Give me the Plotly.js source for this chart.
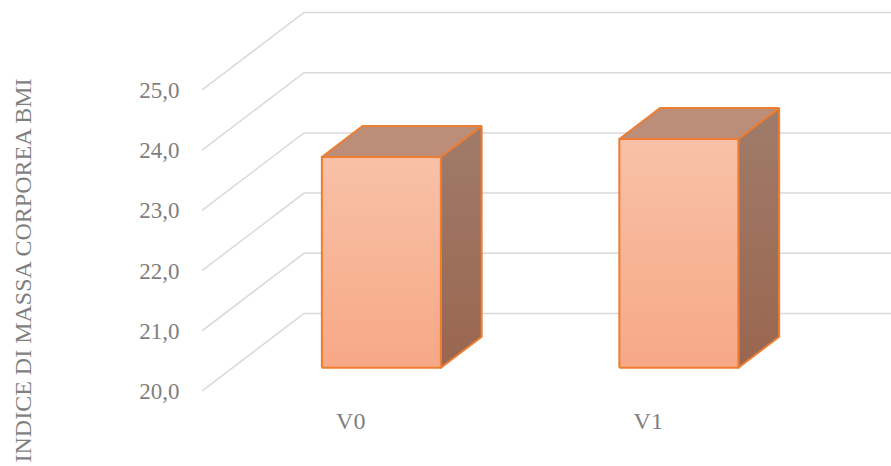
<!DOCTYPE html>
<html>
<head>
<meta charset="utf-8">
<script src="https://cdn.plot.ly/plotly-3.0.1.min.js"></script>
<style>html,body{margin:0;padding:0;background:#fff;}#chart{width:891px;height:466px;}</style>
</head>
<body>
<div id="chart"></div>
<script>
// ---- data ----
const categories = ['V0', 'V1'];
const bmiValues = [23.5, 23.8];
const yTickValues = [20, 21, 22, 23, 24, 25];
const yTickLabels = ['20,0', '21,0', '22,0', '23,0', '24,0', '25,0'];
const yTitle = 'INDICE DI MASSA CORPOREA BMI';

// ---- geometry (pixel layout of the oblique 3D look) ----
const W = 891, H = 466;
const M = {l: 202, r: 0, t: 0, b: 62};
const plotW = W - M.l - M.r, plotH = H - M.t - M.b;
const CAT_PX = 297.5;        // pixels per category on the front plane
const UNIT_PX = 60.2;        // pixels per BMI unit
const BASE_PX = 391;         // pixel row of the axis minimum on the front plane
const DEPTH_X_PX = 102, DEPTH_Y_PX = 77.5;
const yMin = yTickValues[0];
const DX = DEPTH_X_PX / CAT_PX;     // full depth in category units
const DY = DEPTH_Y_PX / UNIT_PX;    // full depth in value units
const D0 = 0.3, D1 = 0.7;           // bar front/back depth fraction
const HALF = 0.2;                   // half bar width (category units)

const xRange = [-0.5, -0.5 + plotW / CAT_PX];
const yRange = [yMin - (M.t + plotH - BASE_PX) / UNIT_PX, yMin + (BASE_PX - M.t) / UNIT_PX];

const traces = [];

// gridlines: side wall + back wall
const gx = [], gy = [];
yTickValues.forEach(v => {
  gx.push(-0.5, -0.5 + DX, categories.length - 0.5 + DX + 0.2, null);
  gy.push(v, v + DY, v + DY, null);
});
traces.push({x: gx, y: gy, type: 'scatter', mode: 'lines',
  line: {color: '#d9d9d9', width: 1.5}, hoverinfo: 'skip', showlegend: false});

const edge = {color: '#ed7d31', width: 2};
categories.forEach((c, i) => {
  const v = bmiValues[i];
  const xl = i - HALF, xr = i + HALF;
  const p = (x, y, d) => [x + d * DX, y + d * DY];
  const poly = pts => ({x: pts.map(q => q[0]).concat([pts[0][0]]), y: pts.map(q => q[1]).concat([pts[0][1]])});
  // side face
  const side = poly([p(xr, yMin, D0), p(xr, yMin, D1), p(xr, v, D1), p(xr, v, D0)]);
  traces.push({x: side.x, y: side.y, type: 'scatter', mode: 'lines', fill: 'toself',
    fillgradient: {type: 'vertical', colorscale: [[0, '#9a664f'], [1, '#a07b6a']]},
    line: edge, hoverinfo: 'skip', showlegend: false});
  // top face
  const top = poly([p(xl, v, D0), p(xr, v, D0), p(xr, v, D1), p(xl, v, D1)]);
  traces.push({x: top.x, y: top.y, type: 'scatter', mode: 'lines', fill: 'toself',
    fillcolor: '#bc8d79', line: edge, hoverinfo: 'skip', showlegend: false});
  // front face
  const front = poly([p(xl, yMin, D0), p(xr, yMin, D0), p(xr, v, D0), p(xl, v, D0)]);
  traces.push({x: front.x, y: front.y, type: 'scatter', mode: 'lines', fill: 'toself',
    fillgradient: {type: 'vertical', colorscale: [[0, '#f7a886'], [1, '#f8c1a7']]},
    line: edge, hoverinfo: 'skip', showlegend: false, name: c});
});

const textColor = '#7f7f7f';
const font = {family: 'Liberation Serif, Times New Roman, serif', color: textColor};

const layout = {
  width: W, height: H,
  margin: M,
  paper_bgcolor: '#ffffff', plot_bgcolor: 'rgba(0,0,0,0)',
  showlegend: false,
  xaxis: {range: xRange, showgrid: false, zeroline: false, showline: false,
    tickmode: 'array', tickvals: categories.map((c, i) => i), ticktext: categories,
    ticks: '', tickfont: Object.assign({size: 24}, font), fixedrange: true},
  yaxis: {range: yRange, showgrid: false, zeroline: false, showline: false,
    tickmode: 'array', tickvals: yTickValues, ticktext: yTickLabels,
    ticks: 'outside', ticklen: 17, tickcolor: 'rgba(0,0,0,0)',
    tickfont: Object.assign({size: 23}, font), fixedrange: true},
  annotations: [{
    text: yTitle, textangle: -90, showarrow: false,
    xref: 'paper', yref: 'paper',
    x: (22 - M.l) / plotW, y: (M.t + plotH - 270.5) / plotH,
    xanchor: 'center', yanchor: 'middle',
    font: Object.assign({size: 24}, font)
  }]
};

Plotly.newPlot('chart', traces, layout, {displayModeBar: false, staticPlot: true});
</script>
</body>
</html>
